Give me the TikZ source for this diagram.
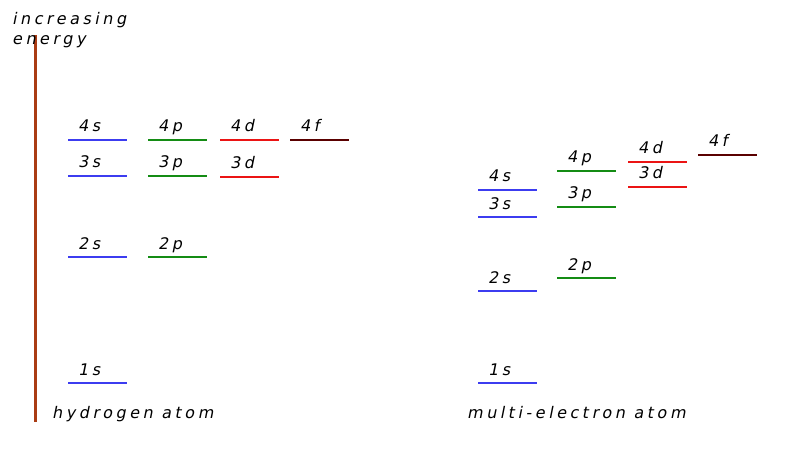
\documentclass[tikz,border=0pt]{standalone}
\usepackage{fontspec}
\setmainfont{DejaVu Sans}[FakeSlant=0.2,LetterSpace=22]
\definecolor{cblue}{RGB}{60,60,240}
\definecolor{cgreen}{RGB}{20,140,20}
\definecolor{cred}{RGB}{235,20,20}
\definecolor{cdark}{RGB}{90,0,0}
\definecolor{cbrown}{RGB}{170,60,20}
\tikzset{lvl/.style={line width=2pt},lab/.style={font=\fontsize{16}{17}\selectfont,anchor=base west,inner sep=0pt}}
\newcommand{\lvl}[5]{%
\coordinate (#1a) at (#2,#3);
\coordinate (#1b) at (#2+59,#3);
\draw[lvl,#4] (#1a) -- (#1b);
\node[lab] (#1t) at (#2+10,#3-8) {#5};}
\begin{document}
\begin{tikzpicture}[x=1pt,y=-1pt]
\useasboundingbox (0,0) rectangle (792,457);
\coordinate (axt) at (35,35);
\coordinate (axb) at (35,422);
\draw[line width=3pt,cbrown] (axt) -- (axb);
\node[lab] (t1) at (12,25) {increasing};
\node[lab] (t2) at (12,45) {energy};
% hydrogen
\lvl{h4s}{68}{140}{cblue}{4s}
\lvl{h4p}{148}{140}{cgreen}{4p}
\lvl{h4d}{220}{140}{cred}{4d}
\lvl{h4f}{290}{140}{cdark}{4f}
\lvl{h3s}{68}{176}{cblue}{3s}
\lvl{h3p}{148}{176}{cgreen}{3p}
\lvl{h3d}{220}{177}{cred}{3d}
\lvl{h2s}{68}{257}{cblue}{2s}
\lvl{h2p}{148}{257}{cgreen}{2p}
\lvl{h1s}{68}{383}{cblue}{1s}
\node[lab] (hyd) at (52,418) {hydrogen atom};
% multi
\lvl{m1s}{478}{383}{cblue}{1s}
\lvl{m2s}{478}{291}{cblue}{2s}
\lvl{m2p}{557}{278}{cgreen}{2p}
\lvl{m3s}{478}{217}{cblue}{3s}
\lvl{m3p}{557}{207}{cgreen}{3p}
\lvl{m4s}{478}{190}{cblue}{4s}
\lvl{m4p}{557}{171}{cgreen}{4p}
\lvl{m3d}{628}{187}{cred}{3d}
\lvl{m4d}{628}{162}{cred}{4d}
\lvl{m4f}{698}{155}{cdark}{4f}
\node[lab] (mul) at (467,418) {multi-electron atom};
\end{tikzpicture}
\end{document}
